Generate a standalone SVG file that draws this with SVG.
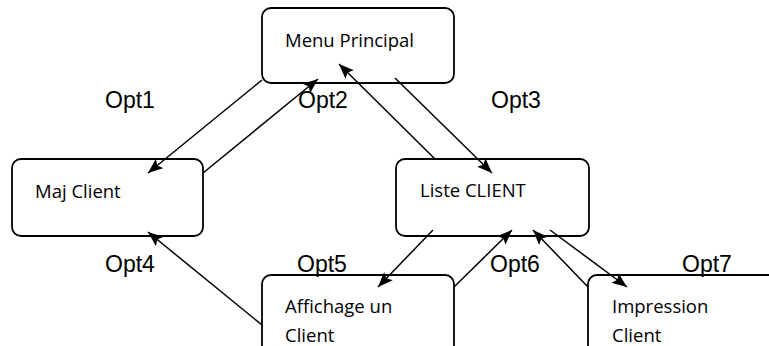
<svg xmlns="http://www.w3.org/2000/svg" width="769" height="346" viewBox="0 0 769 346">
<style>
.box{fill:#fff;stroke:#000;stroke-width:1.8}
.lbl{font-family:"Open Sans","Noto Sans",sans-serif;font-size:18.5px;fill:#000}
.opt{font-family:"Liberation Sans",Arial,sans-serif;font-size:23px;fill:#000}
.conn{stroke:#000;stroke-width:1.5;fill:none;marker-end:url(#ah)}
</style>
<defs>
<marker id="ah" markerUnits="userSpaceOnUse" markerWidth="16" markerHeight="12" refX="15" refY="6" orient="auto">
<path d="M0,0 L15,6 L0,12 L3,6 z" fill="#000"/>
</marker>
</defs>
<rect width="769" height="346" fill="#fff"/>
<g id="menu"><rect class="box" x="262" y="8" width="192" height="75" rx="9"/><text class="lbl" x="285" y="47">Menu Principal</text></g>
<g id="maj"><rect class="box" x="12" y="159" width="191" height="77" rx="9"/><text class="lbl" x="35" y="198">Maj Client</text></g>
<g id="liste"><rect class="box" x="396" y="159" width="193" height="77" rx="9"/><text class="lbl" x="420" y="197">Liste CLIENT</text></g>
<g id="affichage"><rect class="box" x="262" y="275" width="192" height="90" rx="9"/><text class="lbl" x="285" y="313">Affichage un</text><text class="lbl" x="285" y="342">Client</text></g>
<g id="impression"><rect class="box" x="588" y="275" width="200" height="90" rx="9"/><text class="lbl" x="612" y="313">Impression</text><text class="lbl" x="612" y="342">Client</text></g>
<g id="connectors">
<line class="conn" x1="262" y1="80" x2="148" y2="173"/>
<line class="conn" x1="203" y1="173" x2="318" y2="79"/>
<line class="conn" x1="435" y1="159" x2="339" y2="64"/>
<line class="conn" x1="395" y1="78" x2="492" y2="173"/>
<line class="conn" x1="433" y1="230" x2="378" y2="287"/>
<line class="conn" x1="454" y1="287" x2="512" y2="230"/>
<line class="conn" x1="588" y1="287" x2="533" y2="230"/>
<line class="conn" x1="550" y1="230" x2="627" y2="287"/>
<line class="conn" x1="262" y1="325" x2="148" y2="232"/>
</g>
<g id="labels">
<text class="opt" x="105" y="108">Opt1</text>
<text class="opt" x="298" y="108">Opt2</text>
<text class="opt" x="491" y="108">Opt3</text>
<text class="opt" x="105" y="272">Opt4</text>
<text class="opt" x="297" y="272">Opt5</text>
<text class="opt" x="490" y="272">Opt6</text>
<text class="opt" x="682" y="272">Opt7</text>
</g>
</svg>
